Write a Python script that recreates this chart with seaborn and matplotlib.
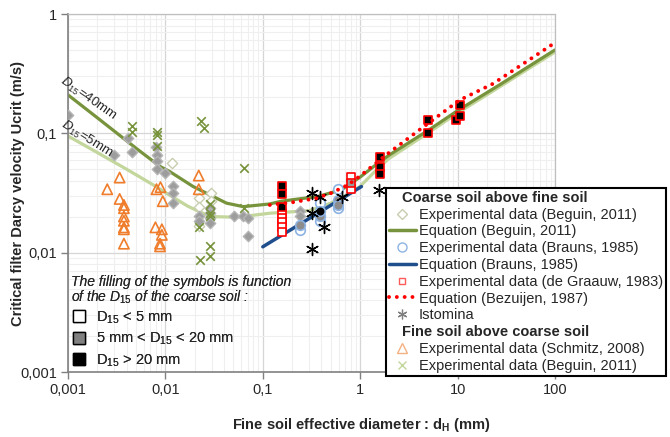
import numpy as np
import pandas as pd
import matplotlib
matplotlib.use("Agg")
import matplotlib.pyplot as plt
from matplotlib.lines import Line2D
from matplotlib.font_manager import FontProperties
import seaborn as sns

# ---------------- data ----------------
# Equation (Beguin, 2011), D15 = 40 mm
beg40_x = [0.001, 0.002, 0.005, 0.0088, 0.011, 0.0193, 0.0286, 0.0424, 0.063, 0.118, 0.155, 0.37, 0.64, 1.0, 1.6, 2.0, 5.0, 10.0, 27.0, 100.0]
beg40_y = [0.21, 0.135, 0.075, 0.0528, 0.048, 0.0358, 0.0305, 0.026, 0.0243, 0.0256, 0.027, 0.0296, 0.0336, 0.043, 0.058, 0.066, 0.106, 0.155, 0.255, 0.50]
# Equation (Beguin, 2011), D15 = 5 mm
beg5_x = [0.001, 0.002, 0.004, 0.0075, 0.0103, 0.017, 0.0286, 0.054, 0.118, 0.3, 0.5, 0.7, 1.0, 1.6, 2.0, 5.0, 10.0, 27.0, 100.0]
beg5_y = [0.095, 0.069, 0.05, 0.037, 0.0314, 0.0245, 0.0201, 0.0198, 0.0214, 0.0225, 0.026, 0.030, 0.036, 0.053, 0.062, 0.101, 0.148, 0.245, 0.48]
# Equation (Brauns, 1985)
brauns_eq_x = [0.1, 1.03]
brauns_eq_y = [0.0112, 0.0358]
# Equation (Bezuijen, 1987)
bez_x = [0.118, 0.2, 0.35, 0.5, 0.75, 1.0, 1.85, 4.0, 10.5, 23.0, 50.0, 100.0]
bez_y = [0.0251, 0.0264, 0.0285, 0.0315, 0.037, 0.044, 0.066, 0.106, 0.19, 0.26, 0.395, 0.575]

# Experimental data (Beguin, 2011) coarse above fine; fill: w white, g grey, b black
begc_x = [0.001, 0.0030, 0.0041, 0.0045, 0.0081, 0.0082, 0.0082, 0.0082, 0.0098, 0.0119, 0.0119, 0.0119,
          0.0221, 0.0221, 0.0286, 0.0286, 0.0286, 0.0286, 0.0505, 0.063, 0.0705, 0.0705, 0.24, 0.24,
          0.0117, 0.0297, 0.022, 0.022, 0.0297, 0.022]
begc_y = [0.142, 0.066, 0.092, 0.070, 0.077, 0.066, 0.0587, 0.050, 0.0469, 0.036, 0.0314, 0.026,
          0.0201, 0.0183, 0.0236, 0.0213, 0.0194, 0.0177, 0.0203, 0.0203, 0.0194, 0.0138, 0.0222, 0.0201,
          0.0569, 0.0314, 0.0286, 0.024, 0.027, 0.0166]
begc_fill = ['g'] * 24 + ['w'] * 6

# Experimental data (Brauns, 1985)
brauns_x = [0.24, 0.24, 0.39, 0.39, 0.39, 0.39, 0.593, 0.593, 0.593, 0.593]
brauns_y = [0.0171, 0.0156, 0.0225, 0.0201, 0.026, 0.0183, 0.034, 0.0277, 0.0252, 0.0236]
brauns_fill = ['g', 'w', 'b', 'g', 'w', 'w', 'w', 'g', 'g', 'w']

# Experimental data (de Graauw, 1983)
graauw_x = [0.159, 0.159, 0.159, 0.159, 0.159, 0.159, 0.159, 0.159, 0.81, 0.81, 0.81,
            1.585, 1.585, 1.585, 4.96, 4.96, 9.7, 10.5, 10.7]
graauw_y = [0.036, 0.031, 0.0243, 0.0215, 0.0197, 0.018, 0.0164, 0.0149, 0.043, 0.038, 0.034,
            0.0638, 0.052, 0.0457, 0.129, 0.101, 0.129, 0.173, 0.14]
graauw_fill = ['b', 'b', 'b', 'w', 'w', 'w', 'w', 'w', 'w', 'g', 'w',
               'b', 'b', 'b', 'b', 'b', 'b', 'b', 'b']

# Istomina
isto_x = [0.321, 0.385, 0.321, 0.426, 0.321, 0.65, 1.55]
isto_y = [0.0315, 0.0295, 0.0217, 0.0163, 0.0108, 0.029, 0.0336]

# Fine soil above coarse soil: Schmitz (2008)
schmitz_x = [0.00253, 0.00339, 0.00339, 0.00375, 0.00375, 0.00375, 0.00375, 0.00375, 0.00375, 0.00375,
             0.0081, 0.0089, 0.0094, 0.0079, 0.0092, 0.0092, 0.0088, 0.0088, 0.022, 0.022]
schmitz_y = [0.034, 0.0426, 0.0282, 0.0251, 0.0236, 0.0201, 0.0185, 0.0163, 0.0157, 0.0119,
             0.034, 0.0354, 0.027, 0.0163, 0.0157, 0.0141, 0.0119, 0.0113, 0.0443, 0.034]
# Fine soil above coarse soil: Beguin (2011)
begf_x = [0.0045, 0.0045, 0.0082, 0.0082, 0.0082, 0.0231, 0.025, 0.064, 0.064, 0.0286, 0.0286, 0.0286,
          0.022, 0.0286, 0.0286, 0.0225]
begf_y = [0.115, 0.103, 0.103, 0.097, 0.079, 0.128, 0.11, 0.051, 0.0235, 0.0256, 0.0213, 0.0201,
          0.0163, 0.0113, 0.0093, 0.0086]

xtick_vals = [0.001, 0.01, 0.1, 1, 10, 100]
xtick_labels = ['0,001', '0,01', '0,1', '1', '10', '100']
ytick_vals = [0.001, 0.01, 0.1, 1]
ytick_labels = ['0,001', '0,01', '0,1', '1']

legend_labels = ['Coarse soil above fine soil',
                 'Experimental data (Beguin, 2011)',
                 'Equation (Beguin, 2011)',
                 'Experimental data (Brauns, 1985)',
                 'Equation (Brauns, 1985)',
                 'Experimental data (de Graauw, 1983)',
                 'Equation (Bezuijen, 1987)',
                 'Istomina',
                 'Fine soil above coarse soil',
                 'Experimental data (Schmitz, 2008)',
                 'Experimental data (Beguin, 2011)']
fill_labels = ['D$_{15}$ < 5 mm', '5 mm < D$_{15}$ < 20 mm', 'D$_{15}$ > 20 mm']

# ---------------- style ----------------
sns.set_style("white")
plt.rcParams['font.family'] = ['Liberation Sans', 'DejaVu Sans']
plt.rcParams['mathtext.fontset'] = 'custom'
plt.rcParams['mathtext.rm'] = 'Liberation Sans'
plt.rcParams['mathtext.it'] = 'Liberation Sans:italic'
plt.rcParams['mathtext.bf'] = 'Liberation Sans:bold'

DKGREEN = '#77933c'
LTGREEN = '#c3d69b'
BLUE = '#1f4e8c'
RED = '#ff0000'
ORANGE = '#ef7d2c'
FILL = {'w': 'white', 'g': '#9a9a9a', 'b': 'black'}
CFILL = {'w': 'white', 'g': '#8c8c8c', 'b': 'black'}

fig = plt.figure(figsize=(6.7, 4.37), dpi=100)
ax = fig.add_axes([68 / 670, 1 - 372 / 437, 487 / 670, 358 / 437])
ax.set_xscale('log')
ax.set_yscale('log')
ax.set_xlim(0.001, 100)
ax.set_ylim(0.001, 1)

ax.set_axisbelow(True)
ax.grid(which='major', color='#d6d6d6', lw=0.9)
ax.grid(which='minor', color='#efefef', lw=0.8)
ax.set_xticks(xtick_vals, xtick_labels)
ax.set_yticks(ytick_vals, ytick_labels)
ax.xaxis.set_minor_formatter(matplotlib.ticker.NullFormatter())
ax.yaxis.set_minor_formatter(matplotlib.ticker.NullFormatter())
ax.tick_params(which='major', direction='out', length=5, width=1, color='#808080',
               labelsize=10.5, pad=3, bottom=True, left=True, top=False, right=False)
ax.tick_params(which='minor', length=0)
for s in ['left', 'bottom']:
    ax.spines[s].set_color('#808080')
    ax.spines[s].set_linewidth(1.2)
for s in ['top', 'right']:
    ax.spines[s].set_color('#bfbfbf')
    ax.spines[s].set_linewidth(0.9)

# ---------------- lines ----------------
sns.lineplot(x=beg5_x, y=beg5_y, ax=ax, color=LTGREEN, linewidth=2.3, estimator=None, legend=False, zorder=2)
sns.lineplot(x=beg40_x, y=beg40_y, ax=ax, color=DKGREEN, linewidth=2.3, estimator=None, legend=False, zorder=2)
sns.lineplot(x=brauns_eq_x, y=brauns_eq_y, ax=ax, color=BLUE, linewidth=2.5, estimator=None, legend=False, zorder=2)

# ---------------- markers ----------------
def scat(xs, ys, fills, fillmap, marker, s, edge, lw=1.0):
    df = pd.DataFrame({'x': xs, 'y': ys, 'f': fills})
    for code in ['w', 'g', 'b']:
        sub = df[df.f == code]
        if len(sub) == 0:
            continue
        sns.scatterplot(data=sub, x='x', y='y', ax=ax, marker=marker, s=s, color=fillmap[code],
                        edgecolor=edge, linewidth=lw, legend=False, zorder=3)

scat(begc_x, begc_y, begc_fill, {'w': 'white', 'g': '#9d9d9d', 'b': 'black'}, 'D', 28,
     None, 1.0)
for coll in ax.collections[-2:]:
    fc = coll.get_facecolor()[0]
    if fc[0] > 0.9:
        coll.set_edgecolor('#c8ceb0')
    else:
        coll.set_edgecolor('#b5b5b5')

sns.scatterplot(x=schmitz_x, y=schmitz_y, ax=ax, marker='^', s=55, color=ORANGE, linewidth=1.2,
                legend=False, zorder=3)
ax.collections[-1].set_facecolor('none')
ax.collections[-1].set_edgecolor(ORANGE)

sns.scatterplot(x=begf_x, y=begf_y, ax=ax, marker='x', s=38, color=DKGREEN, linewidth=1.2,
                legend=False, zorder=3)

scat(brauns_x, brauns_y, brauns_fill, CFILL, 'o', 48, '#8db3e2', 1.2)
scat(graauw_x, graauw_y, graauw_fill, FILL, 's', 40, RED, 1.2)

sns.scatterplot(x=isto_x, y=isto_y, ax=ax, marker=(6, 2, 0), s=75, color='black', linewidth=1.0,
                legend=False, zorder=3)

sns.lineplot(x=bez_x, y=bez_y, ax=ax, color=RED, linewidth=2.8, linestyle=(0, (0.01, 2.0)),
             dash_capstyle='round', estimator=None, legend=False, zorder=4)

# ---------------- curve labels ----------------
ax.text(0.00162, 0.196, r'$D_{15}$=40mm', rotation=-35, ha='center', va='center',
        rotation_mode='anchor', fontsize=9.5, clip_on=False, zorder=5)
ax.text(0.00155, 0.089, r'$D_{15}$=5mm', rotation=-32, ha='center', va='center',
        rotation_mode='anchor', fontsize=9.5, clip_on=False, zorder=5)

# ---------------- axis labels ----------------
ax.set_ylabel('Critical filter Darcy velocity Ucrit (m/s)', fontweight='bold', fontsize=10.5)
ax.yaxis.set_label_coords(-0.088, 0.5)
ax.set_xlabel(r'Fine soil effective diameter : d$_{\mathbf{H}}$ (mm)', fontweight='bold', fontsize=10.5)
ax.xaxis.set_label_coords(0.602, -0.123)

# ---------------- main legend ----------------
blank = Line2D([], [], ls='none', marker=None)
handles = [
    blank,
    Line2D([], [], ls='none', marker='D', mfc='white', mec='#c8ceb0', ms=5, mew=1),
    Line2D([], [], color=DKGREEN, lw=2.5),
    Line2D([], [], ls='none', marker='o', mfc='white', mec='#8db3e2', ms=6.5, mew=1),
    Line2D([], [], color=BLUE, lw=2.5),
    Line2D([], [], ls='none', marker='s', mfc='white', mec='#ff5a5a', ms=5, mew=1),
    Line2D([], [], color=RED, lw=2.8, ls=(0, (0.01, 2.0)), dash_capstyle='round'),
    Line2D([], [], ls='none', marker=(6, 2, 0), color='#7f7f7f', ms=7, mew=0.9),
    blank,
    Line2D([], [], ls='none', marker='^', mfc='none', mec='#f4b183', ms=6.5, mew=1),
    Line2D([], [], ls='none', marker='x', color='#c3d69b', ms=6, mew=1),
]
leg = fig.legend(handles, legend_labels, loc='upper left', bbox_to_anchor=(386 / 670, 1 - 188 / 437),
                 bbox_transform=fig.transFigure, frameon=True, fancybox=False, edgecolor='black',
                 framealpha=1, fontsize=10.5, handlelength=1.85, handletextpad=0.2,
                 borderpad=0.2, labelspacing=0.19, borderaxespad=0)
leg.get_frame().set_linewidth(1.5)
for i in (0, 8):
    t = leg.get_texts()[i]
    t.set_fontweight('bold')
    t.set_position((-17, 0))

# ---------------- fill legend ----------------
handles2 = [Line2D([], [], ls='none', marker='s', mfc=c, mec='black', ms=8, mew=1)
            for c in ['white', '#808080', 'black']]
leg2 = ax.legend(handles2, fill_labels,
                 title='The filling of the symbols is function\nof the $D_{15}$ of the coarse soil :',
                 title_fontproperties=FontProperties(family='Liberation Sans', style='italic', size=10),
                 alignment='left', loc='upper left', bbox_to_anchor=(71 / 670, 1 - 275 / 437),
                 bbox_transform=fig.transFigure, frameon=False, fontsize=10.5,
                 handlelength=1.1, handletextpad=0.6, borderpad=0, labelspacing=0.36,
                 borderaxespad=0)
leg2.get_title().set_linespacing(1.0)
leg2._legend_box.sep = 2
ax.add_artist(leg2)

fig.savefig('out.png', dpi=100)
